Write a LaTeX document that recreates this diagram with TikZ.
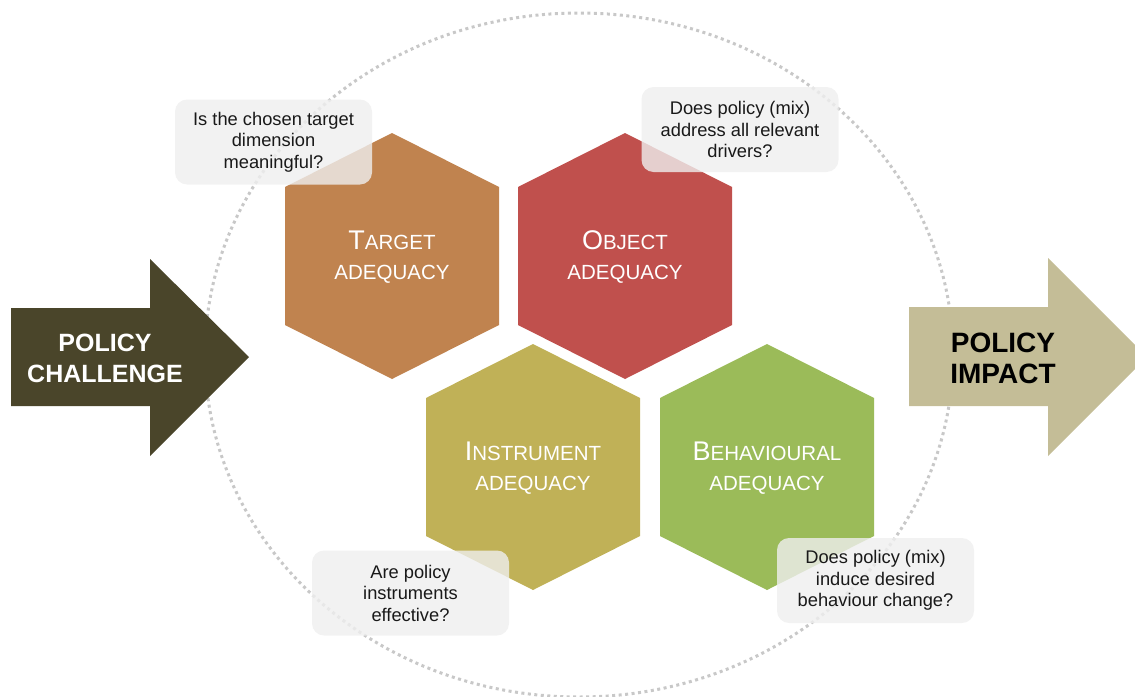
\documentclass[tikz,border=0pt]{standalone}
\usepackage{fontspec}
\setmainfont{Liberation Sans}
\definecolor{arrowdark}{HTML}{4A452A}
\definecolor{arrowtan}{HTML}{C4BD97}
\definecolor{hexT}{HTML}{C0834F}
\definecolor{hexO}{HTML}{C0504D}
\definecolor{hexI}{HTML}{C0B157}
\definecolor{hexB}{HTML}{9BBB59}
\definecolor{boxfill}{HTML}{EFEFEF}
\definecolor{ringgray}{HTML}{C8C8C8}
\newcommand\hxcap[2]{{\fontsize{27}{29.5}\selectfont #1}{\fontsize{20.5}{29.5}\selectfont #2}}
\tikzset{
  ring/.style={draw=ringgray, line width=3pt, dash pattern=on 3pt off 3.5pt},
  arrowtxt/.style={font=\bfseries\fontsize{25}{31}\selectfont, align=center, inner sep=0pt},
  hextxt/.style={text=white, align=center, inner sep=0pt, font=\fontsize{20.5}{29.5}\selectfont},
  callout/.style={fill=boxfill, fill opacity=0.8, text opacity=1, rounded corners=12pt,
    minimum width=197, minimum height=85, inner sep=0pt, align=center,
    text=black!90, font=\fontsize{18.3}{21.5}\selectfont}
}
\begin{document}
\begin{tikzpicture}[x=1pt,y=-1pt]
\useasboundingbox (0,0) rectangle (1135,696);
\clip (0,0) rectangle (1135,696);
% dotted ring
\draw[ring] (579,355) ellipse [x radius=374, y radius=342];
% arrows
\fill[arrowdark] (11,308) -- (150,308) -- (150,259) -- (249,357) -- (150,456) -- (150,406) -- (11,406) -- cycle;
\node[arrowtxt, text=white] (challenge) at (105,358) {POLICY\\CHALLENGE};
\fill[arrowtan] (909,307) -- (1048,307) -- (1048,258) -- (1147,357) -- (1048,456) -- (1048,406) -- (909,406) -- cycle;
\node[arrowtxt, text=black, font=\bfseries\fontsize{28}{31}\selectfont] (impact) at (1003,358) {POLICY\\IMPACT};
% hexagons
\fill[hexT] (392,133) -- ++(107,54) -- ++(0,138) -- ++(-107,54) -- ++(-107,-54) -- ++(0,-138) -- cycle;
\node[hextxt] (target) at (392,257) {\hxcap{T}{ARGET}\\ADEQUACY};
\fill[hexO] (625,133) -- ++(107,54) -- ++(0,138) -- ++(-107,54) -- ++(-107,-54) -- ++(0,-138) -- cycle;
\node[hextxt] (object) at (625,257) {\hxcap{O}{BJECT}\\ADEQUACY};
\fill[hexI] (533,344) -- ++(107,54) -- ++(0,138) -- ++(-107,54) -- ++(-107,-54) -- ++(0,-138) -- cycle;
\node[hextxt] (instrument) at (533,468) {\hxcap{I}{NSTRUMENT}\\ADEQUACY};
\fill[hexB] (767,344) -- ++(107,54) -- ++(0,138) -- ++(-107,54) -- ++(-107,-54) -- ++(0,-138) -- cycle;
\node[hextxt] (behavioural) at (767,468) {\hxcap{B}{EHAVIOURAL}\\ADEQUACY};
% callouts
\node[callout] (q1) at (273.5,142) {Is the chosen target\\dimension\\meaningful?};
\node[callout] (q2) at (740,129.5) {Does policy (mix)\\address all relevant\\drivers?};
\node[callout] (q3) at (410.5,593) {Are policy\\instruments\\effective?};
\node[callout] (q4) at (875.5,580.5) {Does policy (mix)\\induce desired\\behaviour change?};
\end{tikzpicture}
\end{document}
